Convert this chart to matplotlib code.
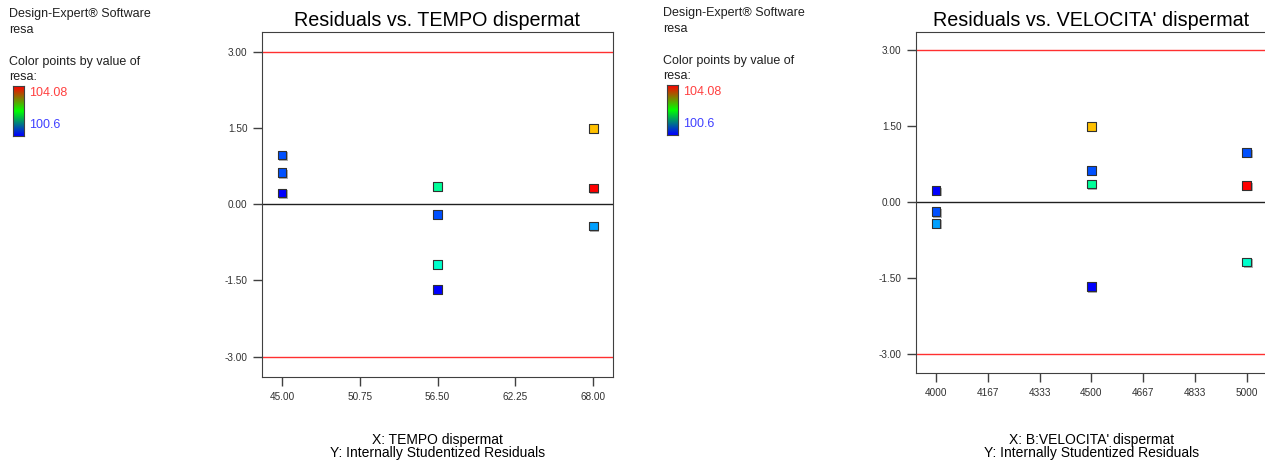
import matplotlib.pyplot as plt
import matplotlib.patheffects as pe
import numpy as np
from matplotlib.colors import LinearSegmentedColormap

plt.rcParams['font.family'] = ['Liberation Sans', 'DejaVu Sans']

# runs: one residual per run, plotted against both factors
tempo = [45.0, 45.0, 45.0, 56.5, 56.5, 56.5, 56.5, 68.0, 68.0, 68.0]
velocita = [5000, 4500, 4000, 4500, 4000, 5000, 4500, 4500, 5000, 4000]
residuals = [0.97, 0.62, 0.22, 0.35, -0.20, -1.19, -1.68, 1.49, 0.32, -0.43]
point_colors = ['#0050ff', '#0050ff', '#0000ff', '#00ff99', '#0050ff',
                '#00ffcc', '#0000ff', '#ffc000', '#ff0000', '#00a0ff']

tempo_ticks = [45.0, 50.75, 56.5, 62.25, 68.0]
tempo_labels = ['45.00', '50.75', '56.50', '62.25', '68.00']
vel_ticks = [4000 + k * 1000 / 6 for k in range(7)]
vel_labels = ['4000', '4167', '4333', '4500', '4667', '4833', '5000']
y_ticks = [3.0, 1.5, 0.0, -1.5, -3.0]
y_labels = ['3.00', '1.50', '0.00', '-1.50', '-3.00']
limit = 3.0
resa_max = '104.08'
resa_min = '100.6'

W, H = 1265, 465
fig = plt.figure(figsize=(W / 100, H / 100), dpi=100)


def px(x, y):
    return x / W, 1 - y / H


def panel(rect, x, xlim, ylim, xticks, xlabels, title, xname):
    ax = fig.add_axes(rect)
    ax.axhline(limit, color='#ff3030', lw=1)
    ax.axhline(-limit, color='#ff3030', lw=1)
    ax.axhline(0, color='#202020', lw=1)
    ax.scatter(x, residuals, c=point_colors, marker='s', s=40,
               edgecolors='#303030', linewidths=0.8, zorder=3,
               path_effects=[pe.withSimplePatchShadow(offset=(1, -1),
                                                      shadow_rgbFace='#b0b0b0',
                                                      alpha=1)])
    ax.set_xlim(xlim)
    ax.set_ylim(ylim)
    ax.set_xticks(xticks)
    ax.set_xticklabels(xlabels)
    ax.set_yticks(y_ticks)
    ax.set_yticklabels(y_labels)
    ax.tick_params(direction='out', length=6.5, width=1, colors='#404040',
                   labelsize=7.2, pad=4, labelcolor='#303030')
    for s in ax.spines.values():
        s.set_color('#404040')
    ax.set_title(title, fontsize=14.2, pad=4)
    cx = rect[0] + rect[2] / 2
    fig.text(cx, px(0, 440)[1], 'X: ' + xname, ha='center', va='center', fontsize=10)
    fig.text(cx, px(0, 453)[1], 'Y: Internally Studentized Residuals',
             ha='center', va='center', fontsize=10)
    return ax


def legend_block(x0, y0):
    lines = [('Design-Expert\u00ae Software', 14), ('resa', 30),
             ('Color points by value of', 62), ('resa:', 77)]
    for t, yy in lines:
        fig.text(*px(x0, y0 + yy), t, ha='left', va='center', fontsize=9,
                 color='#202020')
    cmap = LinearSegmentedColormap.from_list('resa', ['#0000ff', '#00ff00', '#ff0000'])
    l, b = px(x0 + 4, y0 + 136)
    cax = fig.add_axes([l, b, 11 / W, 50 / H])
    cax.imshow(np.linspace(1, 0, 100).reshape(-1, 1), cmap=cmap, aspect='auto')
    cax.set_xticks([])
    cax.set_yticks([])
    for s in cax.spines.values():
        s.set_color('#404040')
    fig.text(*px(x0 + 20, y0 + 93), resa_max, ha='left', va='center',
             fontsize=9, color='#ff4040')
    fig.text(*px(x0 + 20, y0 + 125), resa_min, ha='left', va='center',
             fontsize=9, color='#4040ff')


legend_block(9, 0)
legend_block(663, -1)

panel([262 / W, 88 / H, 351 / W, 345 / H], tempo, (43.52, 69.46), (-3.40, 3.39),
      tempo_ticks, tempo_labels, 'Residuals vs. TEMPO dispermat', 'TEMPO dispermat')
panel([916 / W, 91.7 / H, 351 / W, 341.6 / H], velocita, (3936, 5065), (-3.39, 3.36),
      vel_ticks, vel_labels, "Residuals vs. VELOCITA' dispermat", "B:VELOCITA' dispermat")

fig.savefig('out.png', dpi=100)
